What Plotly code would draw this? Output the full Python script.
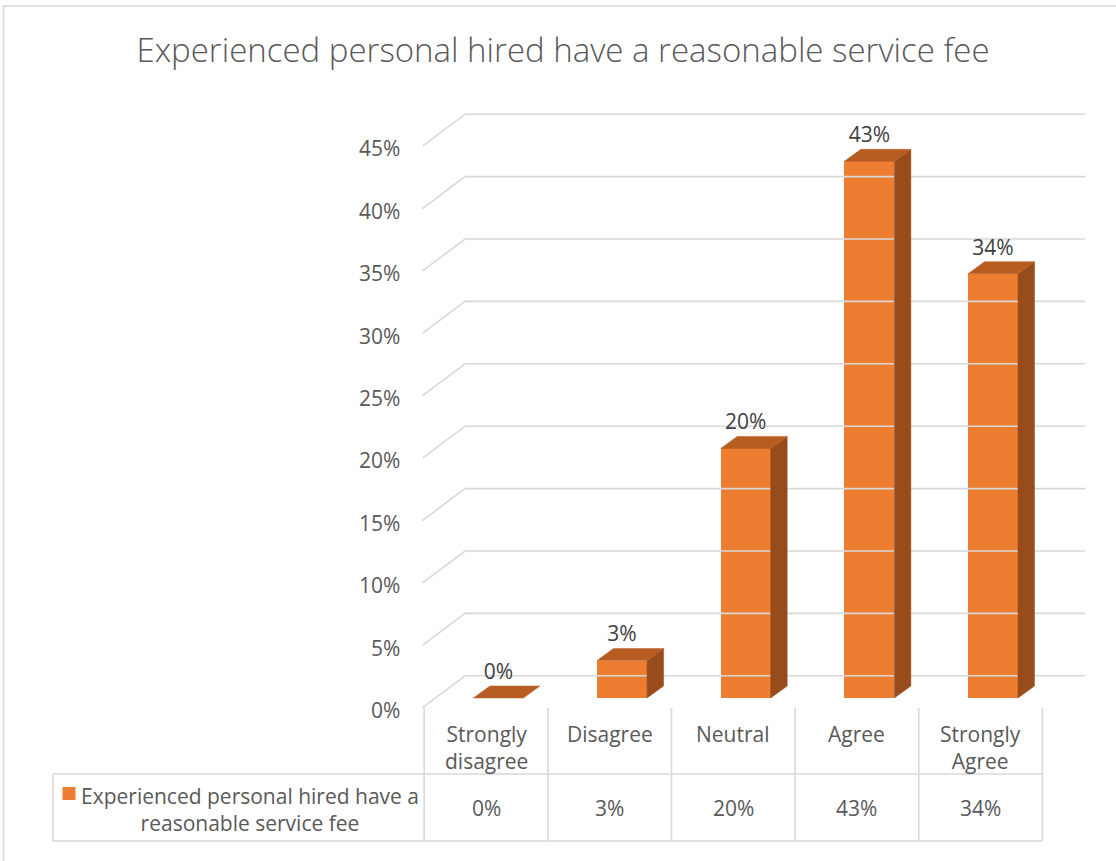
import plotly.graph_objects as go

# ---- data ----
categories = ["Strongly<br>disagree", "Disagree", "Neutral", "Agree", "Strongly<br>Agree"]
values = [0, 3, 20, 43, 34]
tick_values = [0, 5, 10, 15, 20, 25, 30, 35, 40, 45]
series_name = "Experienced personal hired have a reasonable service fee"
chart_title = "Experienced personal hired have a reasonable service fee"

# ---- canvas / scale setup ----
W, H = 1116, 861
PX_PER_CAT = 123.65      # horizontal pixels per category
CAT0_PX = 498.4          # pixel x of the first category's bar centre
PX_PER_PCT = 12.48       # vertical pixels per percentage point
ZERO_PX = 698            # pixel y of 0 % on the bar front plane


def xd(px):
    return (px - CAT0_PX) / PX_PER_CAT


def yd(py):
    return (ZERO_PX - py) / PX_PER_PCT


FONT = "Open Sans"
BODY_SIZE = 21
GRID = "#D9D9D9"
FRONT = "#ED7D31"
TOP = "#B85D22"
SIDE = "#984B1B"
TEXT = "#595959"

BAR_W = 50 / PX_PER_CAT
DEPTH_DX = 16.5 / PX_PER_CAT
DEPTH_DY = 12 / PX_PER_PCT

# wall geometry (oblique projection of the floor/back wall)
WALL_FRONT_X = xd(422.5)
WALL_BACK_X = xd(465)
WALL_END_X = xd(1085)
WALL_FRONT_DY = -0.78
WALL_BACK_DY = 1.78

TABLE_SHIFT = -12.4 / PX_PER_CAT

fig = go.Figure()

# gridlines on the back wall with their receding floor-side segments
gx, gy = [], []
for t in tick_values:
    gx += [WALL_FRONT_X, WALL_BACK_X, WALL_END_X, None]
    gy += [t + WALL_FRONT_DY, t + WALL_BACK_DY, t + WALL_BACK_DY, None]
fig.add_trace(go.Scatter(x=gx, y=gy, mode="lines",
                         line=dict(color=GRID, width=1.6),
                         hoverinfo="skip", showlegend=False))

idx = list(range(len(values)))

# front faces of the columns
fig.add_trace(go.Bar(x=idx, y=values, width=BAR_W, marker_color=FRONT,
                     marker_line_width=0, hoverinfo="skip", showlegend=False))

# side and top faces of the columns
for i, v in zip(idx, values):
    l, r = i - BAR_W / 2, i + BAR_W / 2
    if v > 0:
        fig.add_trace(go.Scatter(
            x=[r, r + DEPTH_DX, r + DEPTH_DX, r, r],
            y=[0, DEPTH_DY, v + DEPTH_DY, v, 0],
            fill="toself", fillcolor=SIDE, mode="lines",
            line=dict(width=0.5, color=SIDE), hoverinfo="skip", showlegend=False))
    fig.add_trace(go.Scatter(
        x=[l, r, r + DEPTH_DX, l + DEPTH_DX, l],
        y=[v, v, v + DEPTH_DY, v + DEPTH_DY, v],
        fill="toself", fillcolor=TOP, mode="lines",
        line=dict(width=0.5, color=TOP), hoverinfo="skip", showlegend=False))

# data labels above the columns
fig.add_trace(go.Scatter(
    x=idx, y=[v + 1.95 for v in values], mode="text",
    text=[f"{v}%" for v in values],
    textfont=dict(family=FONT, size=BODY_SIZE, color="#404040"),
    cliponaxis=False, hoverinfo="skip", showlegend=False))

# data table grid
n = len(values)
edges = [i - 0.5 + TABLE_SHIFT for i in range(n + 1)]
tx, ty = [], []
for e in edges:
    tx += [e, e, None]
    ty += [yd(708), yd(841), None]
legend_left = xd(53)
for row_y in (yd(774), yd(841)):
    tx += [legend_left, edges[-1], None]
    ty += [row_y, row_y, None]
tx += [legend_left, legend_left, None]
ty += [yd(774), yd(841), None]
fig.add_trace(go.Scatter(x=tx, y=ty, mode="lines",
                         line=dict(color=GRID, width=1.6),
                         hoverinfo="skip", showlegend=False))

# legend key in the table
fig.add_trace(go.Scatter(x=[xd(69)], y=[yd(793.5)], mode="markers",
                         marker=dict(symbol="square", size=13, color=FRONT),
                         hoverinfo="skip", showlegend=False))

annotations = []
# value axis labels
for t in tick_values:
    annotations.append(dict(x=xd(402), y=t + yd(710), xref="x", yref="y",
                            text=f"{t}%", showarrow=False, xanchor="right",
                            yanchor="middle",
                            font=dict(family=FONT, size=BODY_SIZE, color=TEXT)))
# category header row
for i, c in enumerate(categories):
    annotations.append(dict(x=i + TABLE_SHIFT, y=yd(718), xref="x", yref="y",
                            text=c, showarrow=False, xanchor="center",
                            yanchor="top",
                            font=dict(family=FONT, size=BODY_SIZE, color=TEXT)))
# value row
for i, v in enumerate(values):
    annotations.append(dict(x=i + TABLE_SHIFT, y=yd(808), xref="x", yref="y",
                            text=f"{v}%", showarrow=False, xanchor="center",
                            yanchor="middle",
                            font=dict(family=FONT, size=BODY_SIZE, color=TEXT)))
# series name in the table legend cell
words = series_name.split(" ")
series_label = " ".join(words[:5]) + "<br>" + " ".join(words[5:])
annotations.append(dict(x=xd(250), y=yd(809), xref="x", yref="y",
                        text=series_label, showarrow=False, xanchor="center",
                        yanchor="middle", align="center",
                        font=dict(family=FONT, size=BODY_SIZE, color=TEXT)))

fig.update_layout(
    width=W, height=H,
    margin=dict(l=0, r=0, t=0, b=0),
    paper_bgcolor="white", plot_bgcolor="white",
    title=dict(text=chart_title, x=563 / W, xanchor="center",
               y=1 - 50 / H, yanchor="middle",
               font=dict(family=FONT, size=33, color=TEXT, weight=300)),
    xaxis=dict(range=[xd(0), xd(W)], visible=False, fixedrange=True),
    yaxis=dict(range=[yd(H), yd(0)], visible=False, fixedrange=True),
    annotations=annotations,
    shapes=[dict(type="rect", xref="paper", yref="paper",
                 x0=3.5 / W, x1=1.02, y0=-0.02, y1=1 - 6 / H,
                 line=dict(color=GRID, width=1.6))],
    bargap=0,
)

fig.write_html("out.html")
